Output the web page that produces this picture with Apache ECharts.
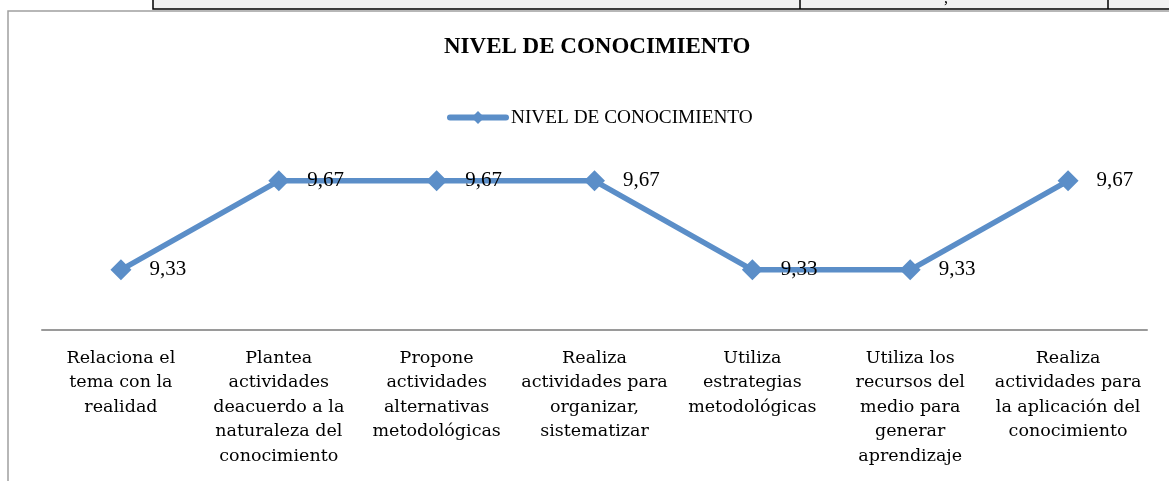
<!DOCTYPE html>
<html>
<head>
<meta charset="utf-8">
<script src="https://cdn.jsdelivr.net/npm/echarts@6/dist/echarts.min.js"></script>
<style>
  html, body { margin: 0; padding: 0; background: #fff; }
  #chart { width: 1169px; height: 481px; }
</style>
</head>
<body>
<div id="chart"></div>
<script>
  const chartTitle = 'NIVEL DE CONOCIMIENTO';
  const seriesName = 'NIVEL DE CONOCIMIENTO';
  const categories = [
    'Relaciona el\ntema con la\nrealidad',
    'Plantea\nactividades\ndeacuerdo a la\nnaturaleza del\nconocimiento',
    'Propone\nactividades\nalternativas\nmetodológicas',
    'Realiza\nactividades para\norganizar,\nsistematizar',
    'Utiliza\nestrategias\nmetodológicas',
    'Utiliza los\nrecursos del\nmedio para\ngenerar\naprendizaje',
    'Realiza\nactividades para\nla aplicación del\nconocimiento'
  ];
  const values = [9.33, 9.67, 9.67, 9.67, 9.33, 9.33, 9.67];

  const lineColor = '#5b8ec8';
  const serif = '"Liberation Serif", "DejaVu Serif", serif';

  const chart = echarts.init(document.getElementById('chart'), null, { renderer: 'canvas' });
  chart.setOption({
    animation: false,
    backgroundColor: '#fff',
    title: {
      text: chartTitle,
      left: 444,
      top: 36,
      padding: 0,
      textStyle: { fontFamily: serif, fontWeight: 'bold', fontSize: 23, color: '#000' }
    },
    legend: {
      data: [seriesName],
      left: 447,
      top: 108,
      padding: 0,
      itemWidth: 56,
      itemHeight: 16,
      lineStyle: { width: 6, color: lineColor, cap: 'round' },
      itemStyle: { color: lineColor },
      textStyle: { fontFamily: serif, fontSize: 19.3, color: '#000' }
    },
    grid: { left: 42, right: 22, top: 173, bottom: 151 },
    xAxis: {
      type: 'category',
      data: categories,
      boundaryGap: true,
      axisLine: { show: true, lineStyle: { color: '#9a9a9a', width: 2 } },
      axisTick: { show: false },
      axisLabel: {
        interval: 0,
        margin: 16,
        fontFamily: '"DejaVu Serif", serif',
        fontSize: 17.5,
        lineHeight: 24.5,
        color: '#000',
        align: 'center'
      }
    },
    yAxis: {
      type: 'value',
      min: 9.1,
      max: 9.7,
      show: false,
      splitLine: { show: false }
    },
    series: [{
      name: seriesName,
      type: 'line',
      data: values,
      symbol: 'diamond',
      symbolSize: [21, 21],
      lineStyle: { color: lineColor, width: 5.5 },
      itemStyle: { color: lineColor },
      label: {
        show: true,
        position: 'right',
        distance: 18,
        fontFamily: serif,
        fontSize: 21,
        color: '#000',
        formatter: p => p.value.toFixed(2).replace('.', ',')
      }
    }],
    graphic: [
      { type: 'rect', shape: { x: 153, y: -2, width: 1030, height: 11 },
        style: { fill: '#f2f2f2', stroke: '#000', lineWidth: 1.5 } },
      { type: 'line', shape: { x1: 800, y1: 0, x2: 800, y2: 9 }, style: { stroke: '#000', lineWidth: 1.5 } },
      { type: 'line', shape: { x1: 1108, y1: 0, x2: 1108, y2: 9 }, style: { stroke: '#000', lineWidth: 1.5 } },
      { type: 'text', x: 944, y: -9, style: { text: ',', fontFamily: serif, fontSize: 16, fill: '#000' } },
      { type: 'polyline', shape: { points: [[8, 490], [8, 11], [1175, 11]] },
        style: { stroke: '#a0a0a0', lineWidth: 1.5, fill: null } }
    ]
  });
</script>
</body>
</html>
